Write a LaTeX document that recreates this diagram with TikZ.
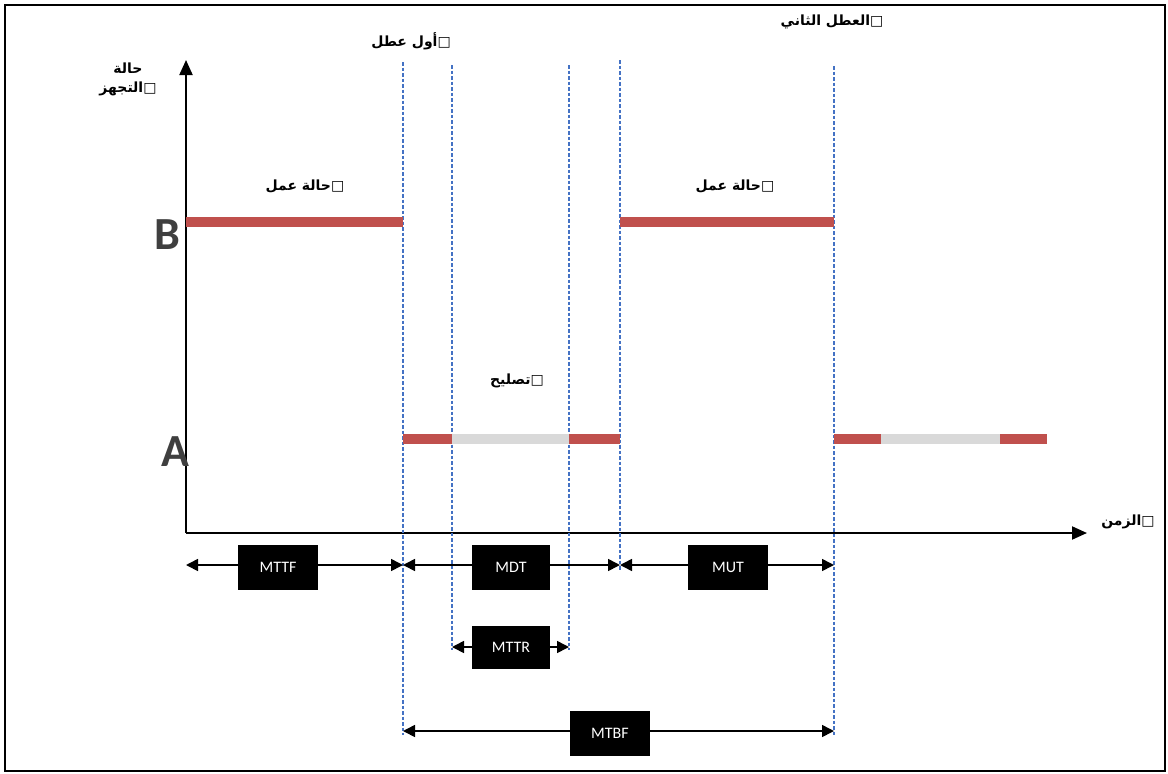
\documentclass[tikz,border=0pt]{standalone}
\usepackage{fontspec}
\setmainfont{Carlito}
\newfontfamily\arabicfont[Script=Arabic]{DejaVu Sans}
\TeXXeTstate=1
\usetikzlibrary{arrows.meta}
\definecolor{barred}{HTML}{C0504D}
\definecolor{bargray}{HTML}{D9D9D9}
\definecolor{guide}{HTML}{4472C4}
\definecolor{letter}{HTML}{3F3F3F}
\begin{document}
\begin{tikzpicture}[x=1pt,y=-1pt,
  frame/.style={line width=2.5pt,draw=black},
  axis/.style={line width=2pt,-{Triangle[length=15pt,width=13pt]}},
  guideline/.style={guide,line width=1.2pt,dash pattern=on 3.5pt off 2pt},
  upbar/.style={barred,line width=10pt},
  repbar/.style={bargray,line width=10pt},
  dim/.style={line width=1.6pt,{Triangle[length=12pt,width=12pt]}-{Triangle[length=12pt,width=12pt]}},
  tag/.style={fill=black,text=white,minimum width=80pt,minimum height=45pt,inner sep=0pt,font=\fontsize{16}{18}\selectfont},
  arlabel/.style={font=\arabicfont\bfseries\fontsize{14}{19}\selectfont,inner sep=0pt,align=center},
  statelbl/.style={font=\fontsize{46}{46}\selectfont\bfseries,text=letter,inner sep=0pt}
]
\useasboundingbox (0,0) rectangle (1168,774);
\draw[frame] (5,5) rectangle (1165,771);

% axes
\coordinate (O) at (186,533);
\coordinate (ytip) at (186,60);
\coordinate (xtip) at (1087,533);
\draw[axis] (O) -- (ytip);
\draw[axis] (O) -- (xtip);

% state letters
\node[statelbl] (B) at (167,235) {B};
\node[statelbl] (A) at (175,452) {A};

% event guide lines
\coordinate (g1t) at (403,62);  \coordinate (g1b) at (403,735);
\coordinate (g2t) at (452,65);  \coordinate (g2b) at (452,650);
\coordinate (g3t) at (569,65);  \coordinate (g3b) at (569,650);
\coordinate (g4t) at (620,60);  \coordinate (g4b) at (620,570);
\coordinate (g5t) at (834,66);  \coordinate (g5b) at (834,735);
\foreach \g in {1,...,5} \draw[guideline] (g\g t) -- (g\g b);

% operating state bars
\coordinate (b1s) at (186,222); \coordinate (b1e) at (403,222);
\coordinate (b2s) at (620,222); \coordinate (b2e) at (834,222);
\draw[upbar] (b1s) -- (b1e);
\draw[upbar] (b2s) -- (b2e);

% failed state bars
\coordinate (a1) at (403,439); \coordinate (a2) at (452,439);
\coordinate (a3) at (569,439); \coordinate (a4) at (620,439);
\coordinate (a5) at (834,439); \coordinate (a6) at (881,439);
\coordinate (a7) at (1000,439); \coordinate (a8) at (1047,439);
\draw[upbar] (a1) -- (a2);
\draw[repbar] (a2) -- (a3);
\draw[upbar] (a3) -- (a4);
\draw[upbar] (a5) -- (a6);
\draw[repbar] (a6) -- (a7);
\draw[upbar] (a7) -- (a8);

% labels
\node[arlabel] (ylab) at (128,79) {\beginR حالة\endR\\ \beginR □التجهز\endR};
\node[arlabel] (xlab) at (1128,522) {\beginR □الزمن\endR};
\node[arlabel] (fail1) at (411,41) {\beginR □أول عطل\endR};
\node[arlabel] (fail2) at (832,22) {\beginR □العطل الثاني\endR};
\node[arlabel] (work1) at (305,186) {\beginR □حالة عمل\endR};
\node[arlabel] (work2) at (735,186) {\beginR □حالة عمل\endR};
\node[arlabel] (repair) at (517,381) {\beginR □تصليح\endR};

% interval dimensions
\coordinate (m1) at (186,565); \coordinate (m2) at (403,565);
\coordinate (m3) at (620,565); \coordinate (m4) at (834,565);
\coordinate (r1) at (452,647); \coordinate (r2) at (569,647);
\coordinate (f1) at (403,731); \coordinate (f2) at (834,731);
\draw[dim] (m1) -- (m2);
\draw[dim] (m2) -- (m3);
\draw[dim] (m3) -- (m4);
\draw[dim] (r1) -- (r2);
\draw[dim] (f1) -- (f2);
\node[tag] (mttf) at (278,567) {MTTF};
\node[tag,minimum width=78pt] (mdt) at (511,567) {MDT};
\node[tag] (mut) at (728,567) {MUT};
\node[tag,minimum width=78pt,minimum height=43pt] (mttr) at (511,647) {MTTR};
\node[tag] (mtbf) at (610,733) {MTBF};
\end{tikzpicture}
\end{document}
